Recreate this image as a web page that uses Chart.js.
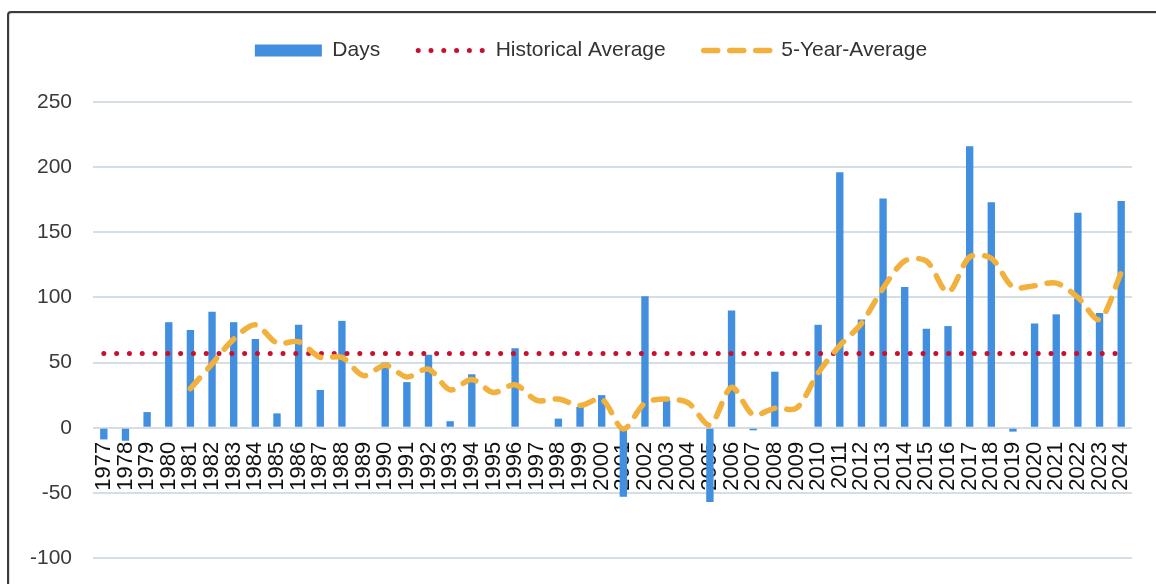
<!DOCTYPE html>
<html>
<head>
<meta charset="utf-8">
<script src="https://cdn.jsdelivr.net/npm/chart.js@4"></script>
<style>
    html, body { margin: 0; padding: 0; background: #fff; overflow: hidden; }
    #frame {
        position: absolute; left: 7px; top: 11px; width: 1200px; height: 620px;
        border-left: 2px solid #3c3c3c; border-top: 2px solid #3c3c3c;
        border-top-left-radius: 4px;
        box-shadow: inset 1px 1px 0 #d6dee6;
    }
    #wrap { position: absolute; left: 0; top: 0; width: 1156px; height: 584px; }
</style>
</head>
<body>
<div id="frame"></div>
<div id="wrap"><canvas id="chart"></canvas></div>
<script>
// Yıllar (kategori ekseni)
const years = [
    "1977", "1978", "1979", "1980", "1981", "1982", "1983", "1984", "1985", "1986",
    "1987", "1988", "1989", "1990", "1991", "1992", "1993", "1994", "1995", "1996",
    "1997", "1998", "1999", "2000", "2001", "2002", "2003", "2004", "2005", "2006",
    "2007", "2008", "2009", "2010", "2011", "2012", "2013", "2014", "2015", "2016",
    "2017", "2018", "2019", "2020", "2021", "2022", "2023", "2024"
];

// Gün sayıları (sütunlar)
const days = [
    -9, -10, 12, 81, 75, 89, 81, 68, 11, 79,
    29, 82, 0, 50, 35, 56, 5, 41, 0, 61,
    0, 7, 16, 25, -53, 101, 21, 0, -57, 90,
    -2, 43, 0, 79, 196, 83, 176, 108, 76, 78,
    216, 173, -3, 80, 87, 165, 88, 174
];

// Tarihsel ortalama (noktalı çizgi)
const historicalAverage = [
    57, 57, 57, 57, 57, 57, 57, 57, 57, 57,
    57, 57, 57, 57, 57, 57, 57, 57, 57, 57,
    57, 57, 57, 57, 57, 57, 57, 57, 57, 57,
    57, 57, 57, 57, 57, 57, 57, 57, 57, 57,
    57, 57, 57, 57, 57, 57, 57, 57
];

// 5 yıllık ortalama (kesikli çizgi)
const fiveYearAverage = [
    null, null, null, null, 30, 49, 68, 79, 65, 66,
    54, 54, 40, 48, 39, 45, 29, 37, 27, 33,
    21, 22, 17, 22, -1, 19, 22, 19, 2, 31,
    10, 15, 15, 42, 63, 80, 107, 128, 128, 104,
    131, 130, 108, 109, 111, 100, 83, 119
];

const yTicks = [-100, -50, 0, 50, 100, 150, 200, 250];

Chart.defaults.font.family = "'Liberation Sans', Arial, sans-serif";
Chart.defaults.font.size = 21;
Chart.defaults.color = "#3a3a3a";

// Lejant yüksekliğini sabitle ve çerçevenin ortasına kaydır
const legendFix = {
    id: "legendFix",
    beforeLayout(chart) {
        const legend = chart.legend;
        if (!legend || legend._patched) return;
        const fit = legend.fit;
        legend.fit = function () {
            fit.call(this);
            this.height = 100;
        };
        legend._patched = true;
    },
    afterLayout(chart) {
        const legend = chart.legend;
        if (!legend) return;
        legend.left += 25;
        legend.right += 25;
    }
};

function noPadding(scale) {
    scale.paddingLeft = 0;
    scale.paddingRight = 0;
    scale.paddingTop = 0;
    scale.paddingBottom = 0;
}

const ctx = document.getElementById("chart").getContext("2d");
new Chart(ctx, {
    data: {
        labels: years,
        datasets: [
            {
                type: "bar",
                label: "Days",
                data: days,
                backgroundColor: "#418FDE",
                borderWidth: 0,
                barPercentage: 0.34,
                categoryPercentage: 1,
                order: 3,
            },
            {
                type: "line",
                label: "Historical Average",
                data: historicalAverage,
                borderColor: "#C8102E",
                backgroundColor: "#C8102E",
                borderWidth: 5,
                borderDash: [0, 12.8],
                borderCapStyle: "round",
                pointRadius: 0,
                fill: false,
                order: 2,
            },
            {
                type: "line",
                label: "5-Year-Average",
                data: fiveYearAverage,
                borderColor: "#F2B13C",
                backgroundColor: "#F2B13C",
                borderWidth: 5.5,
                borderDash: [14, 12],
                borderCapStyle: "round",
                borderJoinStyle: "round",
                tension: 0.3,
                pointRadius: 0,
                fill: false,
                order: 1,
            },
        ],
    },
    options: {
        responsive: true,
        maintainAspectRatio: false,
        animation: false,
        layout: { padding: { left: 0, right: 24, top: 2, bottom: 26 } },
        plugins: {
            tooltip: { enabled: false },
            legend: {
                position: "top",
                reverse: true,
                labels: {
                    usePointStyle: true,
                    pointStyleWidth: 67,
                    boxHeight: 12,
                    padding: 38,
                    color: "#333",
                    font: { size: 21 },
                    generateLabels(chart) {
                        const items = Chart.defaults.plugins.legend.labels.generateLabels(chart);
                        items.forEach((item) => {
                            const ds = chart.data.datasets[item.datasetIndex];
                            if (ds.type === "bar") {
                                item.pointStyle = "rect";
                                item.lineWidth = 0;
                            } else {
                                item.pointStyle = "line";
                                item.lineWidth = ds.borderWidth;
                                item.lineDash = ds.borderDash;
                                item.lineCap = ds.borderCapStyle;
                            }
                        });
                        return items;
                    },
                },
            },
        },
        scales: {
            x: {
                type: "category",
                position: { y: 0 },
                afterFit: noPadding,
                grid: { display: false, drawTicks: false },
                border: { display: false },
                ticks: {
                    autoSkip: false,
                    minRotation: 90,
                    maxRotation: 90,
                    padding: 14,
                    color: "#111",
                    font: { size: 22 },
                },
            },
            y: {
                min: -100,
                max: 250,
                afterFit(scale) {
                    scale.width = 93;
                    noPadding(scale);
                },
                afterBuildTicks(scale) { scale.ticks = yTicks.map((v) => ({ value: v })); },
                grid: { color: "#D5DDE5", lineWidth: 2, drawTicks: false },
                border: { display: false },
                ticks: { padding: 21, color: "#3a3a3a", font: { size: 21 } },
            },
        },
    },
    plugins: [legendFix],
});
</script>
</body>
</html>
